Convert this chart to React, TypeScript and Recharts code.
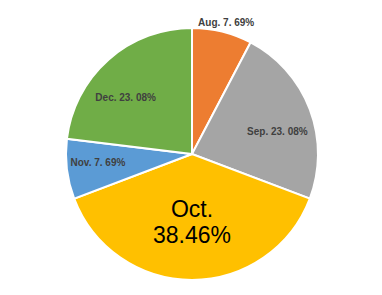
import { PieChart, Pie, Cell } from "recharts";

const MONTHS = ["Aug.", "Sep.", "Oct.", "Nov.", "Dec."];
const COUNTS = [1, 3, 5, 1, 3];
const PERCENTS = ["7. 69%", "23. 08%", "38.46%", "7. 69%", "23. 08%"];
const COLORS = ["#ED7D31", "#A5A5A5", "#FFC000", "#5B9BD5", "#70AD47"];

const data = MONTHS.map((m, i) => ({ name: m, value: COUNTS[i], pct: PERCENTS[i] }));

// label placement: fraction of radius and angle nudge (deg) per slice
const LABEL_R = [1.08, 0.7, 0.53, 0.75, 0.69];
const LABEL_DA = [-0.7, -6.3, 0, -1.5, 8.2];
const RAD = Math.PI / 180;

function renderLabel(props: any) {
  const { cx, cy, midAngle, outerRadius, index } = props;
  const r = outerRadius * LABEL_R[index];
  const a = midAngle + LABEL_DA[index];
  const x = cx + r * Math.cos(-a * RAD);
  const y = cy + r * Math.sin(-a * RAD);
  const d = data[index];
  if (index === 2) {
    return (
      <text x={x} y={y} textAnchor="middle" fill="#000" fontFamily="'Liberation Sans', Arial, sans-serif" fontSize={23}>
        <tspan x={x} dy={-4}>{d.name}</tspan>
        <tspan x={x} dy={26}>{d.pct}</tspan>
      </text>
    );
  }
  return (
    <text x={x} y={y} textAnchor="middle" dominantBaseline="central" fill="#404040"
      fontFamily="'Liberation Sans', Arial, sans-serif" fontWeight="bold" fontSize={10}>
      {`${d.name} ${d.pct}`}
    </text>
  );
}

export default function App() {
  return (
    <div style={{ position: "absolute", left: 0, top: 0, width: 382, height: 295, background: "#fff" }}>
      <PieChart width={382} height={295} margin={{ top: 0, right: 0, bottom: 0, left: 0 }}>
        <Pie data={data} dataKey="value" cx={192} cy={154} outerRadius={126}
          startAngle={90} endAngle={-270} stroke="#fff" strokeWidth={2}
          label={renderLabel} labelLine={false} isAnimationActive={false}>
          {data.map((_, i) => (
            <Cell key={i} fill={COLORS[i]} />
          ))}
        </Pie>
      </PieChart>
    </div>
  );
}
